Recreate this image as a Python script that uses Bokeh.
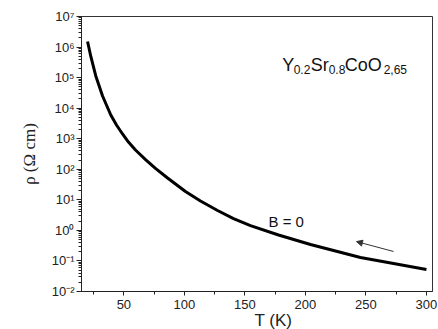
from bokeh.plotting import figure
from bokeh.models import (LogTicker, SingleIntervalTicker, CustomJSTickFormatter, Label,
                          Arrow, NormalHead, ColumnDataSource, Title)
from bokeh.embed import file_html
from bokeh.resources import INLINE

# ---- data ----
T = [20.0, 22.7, 26.8, 32.4, 39.2, 43.9, 48.9, 53.8, 59.6, 67.9, 76.1, 86.1,
     100.9, 113.3, 127.4, 140.6, 154.6, 177.8, 204.2, 245.5, 272.8, 300.0]
rho = [1.52e6, 4.91e5, 1.13e5, 2.50e4, 5.97e3, 2.81e3, 1.43e3, 780, 427, 208, 107,
       51.8, 18.7, 9.14, 4.47, 2.44, 1.44, 0.705, 0.344, 0.129, 0.0822, 0.0522]

src = ColumnDataSource(dict(T=T, rho=rho))

p = figure(width=438, height=329, output_backend="svg", toolbar_location=None,
           y_axis_type="log", x_range=(15, 305), y_range=(1e-2, 1e7),
           min_border_left=81, min_border_right=6, min_border_top=16, min_border_bottom=38)
p.background_fill_color = "white"
p.border_fill_color = "white"
p.outline_line_color = "#333333"
p.outline_line_width = 1
p.grid.visible = False

p.line("T", "rho", source=src, line_color="black", line_width=3, line_join="round")

# axes
p.xaxis.ticker = SingleIntervalTicker(interval=50, num_minor_ticks=2)
p.yaxis.ticker = LogTicker(desired_num_ticks=10, num_minor_ticks=10)
p.yaxis.formatter = CustomJSTickFormatter(code="""
const sup = {'-':'\u207b','0':'\u2070','1':'\u00b9','2':'\u00b2','3':'\u00b3','4':'\u2074',
             '5':'\u2075','6':'\u2076','7':'\u2077','8':'\u2078','9':'\u2079'};
const e = Math.round(Math.log10(tick));
return '10' + String(e).split('').map(c => sup[c]).join('');
""")
for ax in (p.xaxis[0], p.yaxis[0]):
    ax.axis_line_color = "#222222"
    ax.major_tick_line_color = "#222222"
    ax.minor_tick_line_color = "#222222"
    ax.major_tick_in = 0
    ax.minor_tick_in = 0
    ax.major_label_text_font = "Liberation Sans"
    ax.major_label_text_font_size = "13px"
    ax.major_label_text_color = "#222222"
p.xaxis.major_tick_out = 4
p.xaxis.minor_tick_out = 3
p.yaxis.major_tick_out = 5
p.yaxis.minor_tick_out = 3
p.xaxis.major_label_standoff = 4
p.yaxis.major_label_standoff = 2

p.yaxis.axis_label = "\u03c1 (\u03a9 cm)"
p.yaxis.axis_label_text_font = "Liberation Serif"
p.yaxis.axis_label_text_font_style = "normal"
p.yaxis.axis_label_text_font_size = "17px"
p.yaxis.axis_label_text_color = "#222222"
p.yaxis.axis_label_standoff = 10

# x axis title (offset to the right as in the reference)
p.add_layout(Title(text="T (K)", align="left", offset=173, standoff=-6,
                   text_font="Liberation Sans", text_font_size="17px",
                   text_font_style="normal", text_color="#222222"), "below")

# formula label Y0.2Sr0.8CoO2,65
parts = [("Y", 0, False), ("0.2", 11.5, True), ("Sr", 28.5, False),
         ("0.8", 46.5, True), ("CoO", 62.5, False), ("2,65", 101.5, True)]
for txt, dx, sub in parts:
    p.add_layout(Label(x=180.8, y=2.6e5, text=txt, x_offset=dx, y_offset=(-5 if sub else 0),
                       text_font="Liberation Sans", text_font_size=("12px" if sub else "18px"),
                       text_color="#111111", text_align="left", text_baseline="alphabetic"))

p.add_layout(Label(x=169.5, y=1.95, text="B = 0", text_font="Liberation Sans",
                   text_font_size="15px", text_color="#111111", text_baseline="alphabetic"))

p.add_layout(Arrow(x_start=272.8, y_start=0.204, x_end=242.2, y_end=0.43,
                   line_color="#333333", line_width=1,
                   end=NormalHead(size=6, fill_color="#333333", line_color="#333333")))

open("out.html", "w").write(file_html(p, INLINE))
